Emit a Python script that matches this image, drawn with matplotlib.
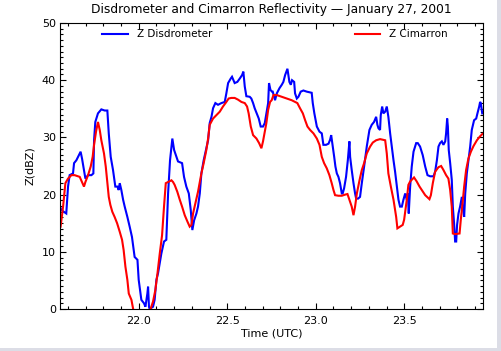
import numpy as np
import matplotlib
matplotlib.use('Agg')
import matplotlib.pyplot as plt
from matplotlib.ticker import MultipleLocator
from matplotlib.patches import Rectangle

# Disdrometer reflectivity (time in decimal hours UTC, Z in dBZ)
disd_time = [21.556, 21.563, 21.591, 21.601, 21.610, 21.629, 21.635, 21.648, 21.667, 21.672,
             21.680, 21.691, 21.699, 21.714, 21.733, 21.744, 21.748, 21.755, 21.770, 21.789,
             21.808, 21.823, 21.831, 21.842, 21.855, 21.868, 21.880, 21.887, 21.893, 21.902,
             21.912, 21.921, 21.936, 21.949, 21.962, 21.977, 21.993, 22.000, 22.015, 22.030,
             22.038, 22.049, 22.053, 22.058, 22.062, 22.081, 22.090, 22.100, 22.109, 22.128,
             22.143, 22.156, 22.166, 22.177, 22.185, 22.190, 22.200, 22.213, 22.222, 22.245,
             22.256, 22.269, 22.283, 22.294, 22.303, 22.313, 22.326, 22.335, 22.345, 22.354,
             22.367, 22.382, 22.392, 22.401, 22.411, 22.420, 22.433, 22.448, 22.467, 22.486,
             22.495, 22.505, 22.520, 22.527, 22.542, 22.557, 22.571, 22.584, 22.591, 22.599,
             22.608, 22.627, 22.636, 22.646, 22.655, 22.670, 22.678, 22.689, 22.702, 22.712,
             22.721, 22.731, 22.736, 22.744, 22.753, 22.757, 22.770, 22.780, 22.795, 22.808,
             22.817, 22.827, 22.840, 22.851, 22.859, 22.866, 22.878, 22.883, 22.893, 22.902,
             22.915, 22.930, 22.949, 22.977, 22.983, 22.992, 23.006, 23.021, 23.034, 23.043,
             23.058, 23.072, 23.081, 23.087, 23.096, 23.104, 23.111, 23.119, 23.128, 23.137,
             23.147, 23.152, 23.160, 23.171, 23.181, 23.190, 23.194, 23.203, 23.213, 23.222,
             23.228, 23.239, 23.250, 23.260, 23.273, 23.288, 23.303, 23.316, 23.329, 23.341,
             23.348, 23.354, 23.363, 23.367, 23.375, 23.382, 23.392, 23.401, 23.410, 23.420,
             23.429, 23.439, 23.448, 23.458, 23.467, 23.476, 23.486, 23.495, 23.505, 23.514,
             23.520, 23.525, 23.533, 23.542, 23.552, 23.567, 23.576, 23.589, 23.604, 23.618,
             23.631, 23.646, 23.665, 23.674, 23.684, 23.693, 23.702, 23.712, 23.721, 23.731,
             23.736, 23.742, 23.746, 23.751, 23.759, 23.768, 23.774, 23.781, 23.787, 23.793,
             23.798, 23.806, 23.815, 23.825, 23.830, 23.838, 23.844, 23.853, 23.862, 23.872,
             23.881, 23.894, 23.906, 23.913, 23.923, 23.928, 23.932, 23.940]
disd_z = [17.9, 17.3, 16.7, 21.4, 23.4, 23.7, 25.5, 26.0, 27.2, 27.5,
          26.3, 24.3, 22.8, 23.4, 23.4, 23.7, 29.5, 32.7, 34.2, 34.9,
          34.7, 34.7, 30.7, 26.6, 24.3, 21.4, 21.4, 20.8, 22.0, 20.8,
          19.1, 17.9, 16.1, 14.4, 12.6, 9.1, 8.6, 5.1, 1.6, 1.0,
          0.4, 2.7, 3.9, 0.4, 0.0, 0.4, 1.6, 5.1, 6.2, 9.7,
          11.8, 12.1, 20.2, 26.0, 28.4, 29.8, 27.8, 26.6, 25.8, 25.5,
          23.1, 21.4, 20.2, 17.3, 13.8, 15.5, 16.7, 17.9, 20.2, 23.7,
          26.0, 28.1, 29.5, 32.5, 33.6, 35.1, 36.0, 35.7, 36.0, 36.2,
          37.7, 39.5, 40.3, 40.6, 39.5, 39.7, 40.3, 40.9, 41.5, 38.9,
          37.2, 37.1, 36.8, 36.0, 35.1, 33.9, 33.3, 31.9, 31.9, 32.5,
          34.2, 36.0, 39.5, 38.3, 38.0, 38.0, 36.5, 37.7, 38.6, 39.2,
          39.7, 40.9, 42.0, 39.7, 39.2, 40.0, 39.7, 37.7, 36.8, 37.1,
          38.0, 38.2, 38.0, 37.8, 36.0, 34.2, 31.9, 31.0, 30.7, 28.7,
          28.7, 28.9, 29.6, 30.4, 28.4, 26.6, 24.9, 23.7, 23.1, 22.0,
          20.2, 20.2, 21.1, 23.1, 26.0, 29.3, 26.6, 24.3, 22.0, 20.2,
          19.3, 19.3, 19.6, 22.0, 24.9, 28.4, 31.3, 32.2, 32.7, 33.6,
          32.2, 31.6, 31.3, 33.9, 35.4, 34.2, 34.5, 35.4, 33.6, 30.7,
          28.4, 26.0, 24.0, 21.4, 19.1, 17.9, 17.9, 19.1, 20.2, 19.1,
          20.2, 16.7, 21.4, 24.9, 27.5, 29.0, 29.0, 28.4, 26.9, 24.9,
          23.4, 23.2, 23.2, 24.0, 26.0, 28.4, 29.0, 29.3, 28.7, 29.3,
          30.7, 33.3, 31.9, 27.8, 25.5, 22.6, 17.9, 15.0, 11.8, 11.8,
          14.7, 16.7, 17.9, 19.6, 17.9, 16.1, 20.2, 23.7, 26.0, 28.4,
          31.3, 33.0, 33.3, 34.2, 35.4, 36.2, 36.0, 34.2]

# Cimarron radar reflectivity
cim_time = [21.559, 21.573, 21.586, 21.601, 21.620, 21.638, 21.657, 21.667, 21.680, 21.691,
            21.699, 21.714, 21.729, 21.740, 21.748, 21.759, 21.770, 21.780, 21.789, 21.804,
            21.814, 21.823, 21.831, 21.840, 21.851, 21.864, 21.878, 21.893, 21.906, 21.915,
            21.925, 21.936, 21.944, 21.959, 21.968, 21.987, 22.043, 22.068, 22.081, 22.094,
            22.106, 22.119, 22.132, 22.143, 22.153, 22.166, 22.185, 22.194, 22.203, 22.218,
            22.232, 22.245, 22.260, 22.275, 22.288, 22.298, 22.307, 22.320, 22.335, 22.354,
            22.367, 22.382, 22.392, 22.401, 22.420, 22.439, 22.458, 22.476, 22.495, 22.508,
            22.523, 22.542, 22.561, 22.580, 22.599, 22.612, 22.621, 22.633, 22.646, 22.665,
            22.680, 22.693, 22.702, 22.712, 22.721, 22.731, 22.742, 22.751, 22.761, 22.780,
            22.808, 22.836, 22.864, 22.883, 22.896, 22.911, 22.927, 22.940, 22.953, 22.968,
            22.987, 23.006, 23.021, 23.034, 23.047, 23.062, 23.077, 23.090, 23.100, 23.109,
            23.128, 23.147, 23.166, 23.179, 23.190, 23.203, 23.213, 23.222, 23.232, 23.247,
            23.260, 23.273, 23.288, 23.307, 23.322, 23.341, 23.363, 23.392, 23.401, 23.410,
            23.424, 23.439, 23.454, 23.461, 23.476, 23.491, 23.499, 23.505, 23.514, 23.523,
            23.533, 23.555, 23.570, 23.586, 23.599, 23.618, 23.642, 23.650, 23.661, 23.674,
            23.693, 23.708, 23.721, 23.736, 23.749, 23.759, 23.768, 23.774, 23.787, 23.812,
            23.819, 23.829, 23.838, 23.849, 23.862, 23.876, 23.891, 23.910, 23.928, 23.941]
cim_z = [14.4, 17.9, 22.0, 22.8, 23.4, 23.4, 23.2, 23.1, 22.2, 21.4,
         22.2, 23.4, 24.9, 26.6, 28.7, 31.0, 32.7, 31.3, 29.5, 27.2,
         24.9, 22.0, 19.6, 18.2, 17.0, 16.1, 15.0, 13.5, 12.1, 10.3,
         7.4, 5.1, 2.7, 1.6, 0.1, -3.0, -3.0, 0.1, 1.3, 3.3,
         6.2, 9.7, 12.9, 17.9, 22.0, 22.2, 22.5, 22.2, 21.7, 20.5,
         19.1, 17.9, 16.4, 15.3, 14.4, 14.7, 16.7, 18.5, 20.5, 23.7,
         25.5, 27.8, 29.8, 32.2, 33.3, 33.9, 34.5, 35.4, 36.2, 36.8,
         36.9, 36.9, 36.6, 36.2, 36.0, 35.4, 34.2, 31.9, 30.4, 29.8,
         29.0, 28.1, 29.3, 31.0, 32.5, 34.8, 36.2, 36.5, 37.4, 37.4,
         37.1, 36.8, 36.5, 36.2, 36.0, 35.1, 34.2, 33.0, 31.9, 31.3,
         30.7, 29.8, 28.7, 26.6, 25.5, 24.6, 23.4, 22.0, 20.8, 19.9,
         19.8, 19.8, 20.0, 20.1, 19.1, 17.9, 16.4, 17.9, 20.2, 22.5,
         24.3, 25.5, 27.2, 28.4, 29.1, 29.5, 29.7, 29.5, 27.2, 23.7,
         21.4, 19.1, 16.1, 14.1, 14.4, 14.7, 15.6, 17.0, 19.1, 21.7,
         22.3, 23.0, 22.3, 21.4, 20.8, 19.9, 19.2, 19.9, 22.0, 24.0,
         24.8, 25.0, 24.3, 23.4, 22.8, 20.8, 17.9, 13.2, 13.1, 13.2,
         15.6, 18.5, 21.4, 24.3, 26.3, 27.5, 28.5, 29.5, 30.2, 30.6]

plt.rcParams['font.family'] = 'DejaVu Sans'

W, H = 501, 351
fig = plt.figure(figsize=(W / 100, H / 100), dpi=100)
ax = fig.add_axes([60 / W, (H - 309) / H, 423 / W, 286 / H])

ax.plot(disd_time, disd_z, color='#0000ff', lw=1.5, solid_joinstyle='miter')
ax.plot(cim_time, cim_z, color='#ff0000', lw=1.5, solid_joinstyle='miter')

ax.set_xlim(21.5556, 23.9444)
ax.set_ylim(0, 50)
ax.xaxis.set_major_locator(MultipleLocator(0.5))
ax.xaxis.set_minor_locator(MultipleLocator(0.1))
ax.yaxis.set_major_locator(MultipleLocator(10))
ax.yaxis.set_minor_locator(MultipleLocator(1))
ax.xaxis.set_major_formatter(lambda v, p: f'{v:.1f}')
ax.tick_params(which='both', direction='in', top=True, right=True,
               width=0.8, labelsize=8, colors='black')
ax.tick_params(which='major', length=4.3)
ax.tick_params(which='minor', length=2.2)
ax.tick_params(axis='x', pad=5)
ax.tick_params(axis='y', pad=3)
for s in ax.spines.values():
    s.set_linewidth(0.8)

ax.set_xlabel('Time (UTC)', fontsize=8, labelpad=2)
ax.set_ylabel('Z(dBZ)', fontsize=8, labelpad=5)
fig.text(271 / W, 1 - 10 / H, 'Disdrometer and Cimarron Reflectivity \u2014 January 27, 2001',
         ha='center', va='center', fontsize=8.8)

# legend drawn by hand, IDL style
ax.plot([0.099, 0.161], [0.962, 0.962], color='#0000ff', lw=1.5, transform=ax.transAxes, clip_on=False)
ax.text(0.182, 0.962, 'Z Disdrometer', transform=ax.transAxes, va='center', fontsize=7.5)
ax.plot([0.697, 0.757], [0.962, 0.962], color='#ff0000', lw=1.5, transform=ax.transAxes, clip_on=False)
ax.text(0.778, 0.962, 'Z Cimarron', transform=ax.transAxes, va='center', fontsize=7.5)

# thin grey window border at right and bottom
fig.patches.append(Rectangle((497 / W, 0), 4 / W, 1, transform=fig.transFigure,
                             facecolor='#dcdde6', edgecolor='none'))
fig.patches.append(Rectangle((0, 0), 1, 3 / H, transform=fig.transFigure,
                             facecolor='#dcdde6', edgecolor='none'))

fig.savefig('out.png', dpi=100, facecolor='white')
